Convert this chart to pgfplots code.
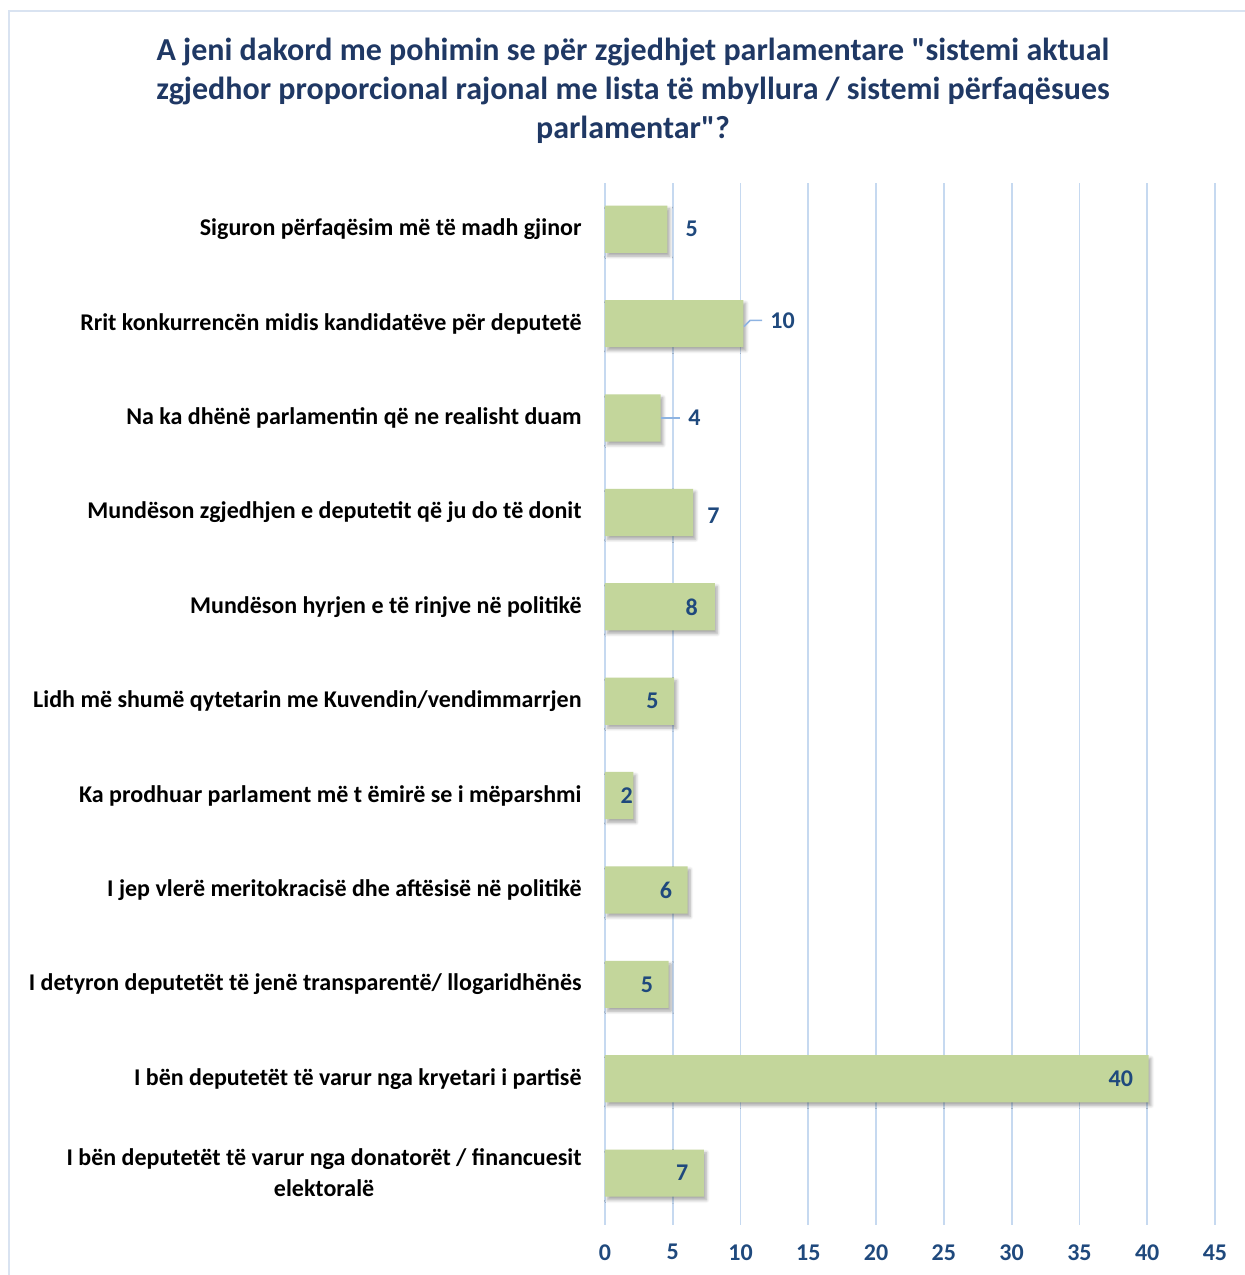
\documentclass[border=0pt]{standalone}
\usepackage{pgfplots}
\pgfplotsset{compat=1.18}
\usepackage{fontspec}
\setmainfont{Carlito}
\newfontfamily\qfont{Carlito}[Ligatures=ResetAll]
\usetikzlibrary{shadows.blur}
\definecolor{barfill}{HTML}{C3D69B}
\definecolor{gridblue}{HTML}{C6D9F0}
\definecolor{titleblue}{HTML}{1F3864}
\definecolor{valblue}{HTML}{1F497D}
\definecolor{leader}{HTML}{8DB3E2}
\definecolor{frameblue}{HTML}{D9E3F1}
\begin{document}
\begin{tikzpicture}
\path[use as bounding box] (0,0) rectangle (622.5pt,-637.5pt);
\draw[frameblue, line width=0.8pt] (4.5pt,-640pt) -- (4.5pt,-5.5pt) -- (625pt,-5.5pt);
\node[align=center, text=titleblue, font=\fontsize{16}{19.5}\selectfont\bfseries]
  at (316.5pt,-45.5pt)
  {A jeni dakord me pohimin se për zgjedhjet parlamentare {\qfont"}sistemi aktual\\
   zgjedhor proporcional rajonal me lista të mbyllura / sistemi përfaqësues\\
   parlamentar{\qfont"}?};
\begin{axis}[
  at={(302.5pt,-612.5pt)}, anchor=south west,
  scale only axis, width=305pt, height=521pt,
  xmin=0, xmax=45, ymin=-0.49, ymax=10.55,
  y dir=reverse,
  axis line style={draw=none},
  xtick={0,5,...,45}, ytick={0,...,10},
  major tick length=0pt,
  xmajorgrids, major grid style={gridblue, line width=0.9pt},
  /pgf/number format/assume math mode=true,
  xticklabel style={text=valblue, font=\fontsize{12}{14}\selectfont\bfseries, inner sep=0pt, yshift=-9.5pt},
  yticklabel style={font=\fontsize{12}{15.5}\selectfont\bfseries, align=center, inner sep=0pt, xshift=-11.5pt},
  yticklabels={
    Siguron përfaqësim më të madh gjinor,
    Rrit konkurrencën midis kandidatëve për deputetë,
    Na ka dhënë parlamentin që ne realisht duam,
    Mundëson zgjedhjen e deputetit që ju do të donit,
    Mundëson hyrjen e të rinjve në politikë,
    Lidh më shumë qytetarin me Kuvendin/vendimmarrjen,
    Ka prodhuar parlament më t ëmirë se i mëparshmi,
    I jep vlerë meritokracisë dhe aftësisë në politikë,
    I detyron deputetët të jenë transparentë/ llogaridhënës,
    I bën deputetët të varur nga kryetari i partisë,
    {I bën deputetët të varur nga donatorët / financuesit\\elektoralë}
  },
  clip=false,
]
\addplot[xbar, bar width=0.5, fill=barfill, draw=none,
  blur shadow={shadow xshift=1.2pt, shadow yshift=-1.6pt, shadow blur steps=6,
    shadow blur radius=1.6pt, shadow opacity=35}]
  coordinates {
  (4.6,0) (10.2,1) (4.1,2) (6.5,3) (8.1,4) (5.1,5)
  (2.1,6) (6.1,7) (4.7,8) (40.1,9) (7.3,10)
};
% leader lines
\addplot[leader, line width=0.8pt, mark=none] coordinates {(10.25,1.03) (10.7,0.965) (11.6,0.965)};
\addplot[leader, line width=0.8pt, mark=none] coordinates {(4.15,2) (5.55,2)};
% data labels
\addplot[draw=none, mark=none, nodes near coords, point meta=explicit symbolic,
  every node near coord/.style={anchor=center, inner sep=0pt, text=valblue,
    font=\fontsize{12}{14}\selectfont\bfseries}]
  table[meta=lbl] {
  x y lbl
  6.4 0 5
  13.1 0.964 10
  6.6 2 4
  8.0 3.04 7
  6.4 4 8
  3.5 5 5
  1.6 6 2
  4.5 7 6
  3.1 8 5
  38.05 9 40
  5.7 10 7
};
\end{axis}
\end{tikzpicture}
\end{document}
